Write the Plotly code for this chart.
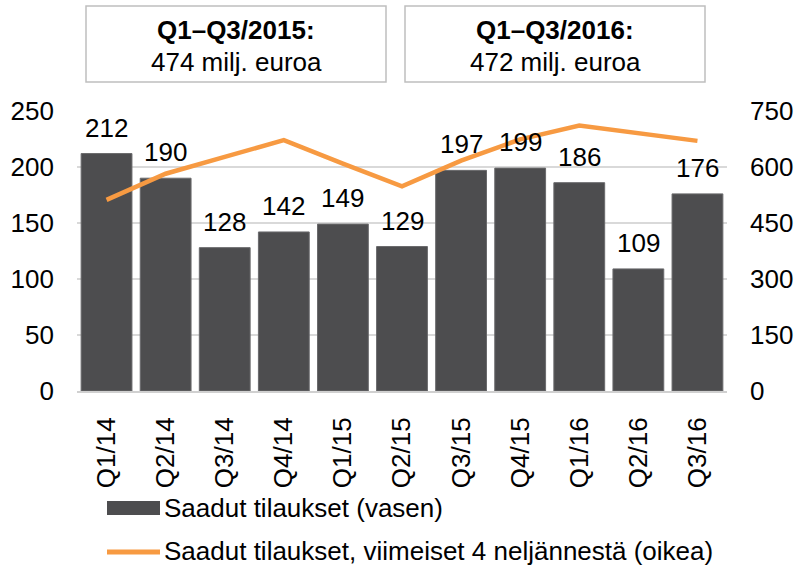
import plotly.graph_objects as go

categories = ["Q1/14", "Q2/14", "Q3/14", "Q4/14", "Q1/15", "Q2/15", "Q3/15", "Q4/15", "Q1/16", "Q2/16", "Q3/16"]
orders = [212, 190, 128, 142, 149, 129, 197, 199, 186, 109, 176]
rolling4 = [512, 582, 627, 672, 609, 548, 617, 674, 711, 691, 670]
left_ticks = [0, 50, 100, 150, 200, 250]
right_ticks = [0, 150, 300, 450, 600, 750]
box_titles = ["Q1\u2013Q3/2015:", "Q1\u2013Q3/2016:"]
box_values = ["474 milj. euroa", "472 milj. euroa"]
legend_names = ["Saadut tilaukset (vasen)", "Saadut tilaukset, viimeiset 4 nelj\u00e4nnest\u00e4 (oikea)"]

FONT = "Liberation Sans, Arial, sans-serif"
BAR_COLOR = "#4D4D4F"
LINE_COLOR = "#F79A42"
FS = 26

# plot area in pixels
W, H = 797, 567
L, R, T, B = 77, 70, 111, 176
PW = W - L - R
PH = H - T - B

def px_x(p):
    return (p - L) / PW

def px_y(p):
    return (H - B - p) / PH

fig = go.Figure()
fig.add_trace(go.Bar(
    x=categories, y=orders, name=legend_names[0],
    marker=dict(color=BAR_COLOR, line=dict(color="#6A6A6C", width=1)),
    showlegend=False, yaxis="y"))
fig.add_trace(go.Scatter(
    x=categories, y=rolling4, name=legend_names[1], mode="lines",
    line=dict(color=LINE_COLOR, width=4.5), showlegend=False, yaxis="y2"))

annotations = []
for c, v in zip(categories, orders):
    annotations.append(dict(x=c, y=v, xref="x", yref="y", text=str(v), showarrow=False,
                            yanchor="middle", yshift=26, font=dict(size=FS, color="black", family=FONT)))

shapes = []
boxes = [(86, 386), (405, 705)]
for (x0, x1), t, val in zip(boxes, box_titles, box_values):
    shapes.append(dict(type="rect", xref="paper", yref="paper", x0=px_x(x0), x1=px_x(x1),
                       y0=px_y(82), y1=px_y(6), line=dict(color="#BFBFBF", width=1.5),
                       fillcolor="white", layer="above"))
    cx = px_x((x0 + x1) / 2)
    annotations.append(dict(x=cx, y=px_y(30), xref="paper", yref="paper", text="<b>" + t + "</b>",
                            showarrow=False, xanchor="center", yanchor="middle",
                            font=dict(size=FS, color="black", family=FONT)))
    annotations.append(dict(x=cx, y=px_y(62), xref="paper", yref="paper", text=val,
                            showarrow=False, xanchor="center", yanchor="middle",
                            font=dict(size=FS, color="black", family=FONT)))

# manual legend
shapes.append(dict(type="rect", xref="paper", yref="paper", x0=px_x(107), x1=px_x(160),
                   y0=px_y(515), y1=px_y(501), fillcolor=BAR_COLOR, line=dict(width=0)))
shapes.append(dict(type="line", xref="paper", yref="paper", x0=px_x(107), x1=px_x(160),
                   y0=px_y(552), y1=px_y(552), line=dict(color=LINE_COLOR, width=5)))
for name, py in zip(legend_names, [508, 551]):
    annotations.append(dict(x=px_x(162), y=px_y(py), xref="paper", yref="paper", text=name,
                            showarrow=False, xanchor="left", yanchor="middle",
                            font=dict(size=FS, color="black", family=FONT)))

fig.update_layout(
    width=W, height=H,
    margin=dict(l=L, r=R, t=T, b=B, autoexpand=False),
    paper_bgcolor="white", plot_bgcolor="white",
    font=dict(family=FONT, size=FS, color="black"),
    bargap=0.14,
    showlegend=False,
    xaxis=dict(type="category", tickangle=-90, showgrid=False, showline=True,
               linecolor="#D0D0D0", linewidth=2, ticks="", ticklabelstandoff=14,
               tickfont=dict(size=FS), range=[-0.5, 10.5]),
    yaxis=dict(range=[0, 250], tickvals=left_ticks, showgrid=True, gridcolor="#D9D9D9",
               gridwidth=1.5, zeroline=False, showline=False, ticks="", ticklabelstandoff=22,
               tickfont=dict(size=FS)),
    yaxis2=dict(range=[0, 750], tickvals=right_ticks, overlaying="y", side="right",
                showgrid=False, zeroline=False, showline=False, ticks="", ticklabelstandoff=22,
                tickfont=dict(size=FS)),
    annotations=annotations,
    shapes=shapes,
)

fig.write_html("out.html", config={"displayModeBar": False},
               post_script="document.body.style.margin='0';document.body.style.overflow='hidden';")
